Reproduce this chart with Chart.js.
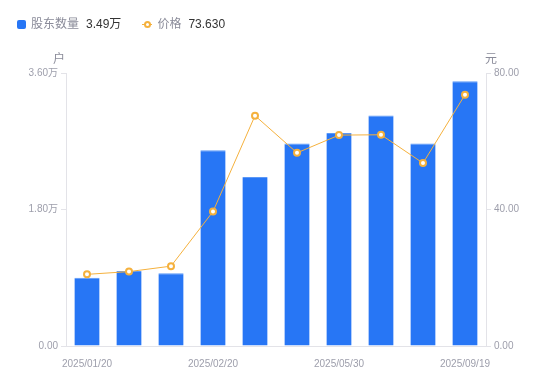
<!DOCTYPE html>
<html lang="zh">
<head>
  <meta charset="UTF-8">
  <title>股东数量与价格</title>
  <script src="https://cdn.jsdelivr.net/npm/chart.js"></script>
  <style>
    html, body { margin: 0; padding: 0; background: #fff; }
    body { font-family: "Liberation Sans", "Noto Sans CJK SC", sans-serif; }
    .wrap { position: relative; width: 550px; height: 381px; }
    .legend { position: absolute; left: 17px; top: 16px; font-size: 12px; line-height: 16px; display: flex; align-items: center; }
    .legend .lab { color: #8a8b99; margin-left: 5px; }
    .legend .val { color: #333; margin-left: 7px; }
    .sq { width: 9px; height: 9px; border-radius: 2px; background: #2776f5; display: inline-block; }
    .ln { position: relative; width: 10px; height: 9px; display: inline-block; margin-left: 21px; }
    .ln:before { content: ""; position: absolute; left: 0; right: 0; top: 4px; height: 1px; background: #f5b13d; }
    .ln:after { content: ""; position: absolute; left: 2px; top: 1px; width: 3px; height: 3px; border: 2px solid #f5b13d; border-radius: 50%; background: #fff; }
    .unit { position: absolute; top: 49px; font-size: 12px; color: #8a8b99; }
  </style>
</head>
<body>
  <div class="wrap">
    <div class="legend">
      <span class="sq"></span><span class="lab">股东数量</span><span class="val" id="v1"></span>
      <span class="ln"></span><span class="lab">价格</span><span class="val" id="v2"></span>
    </div>
    <span class="unit" style="left:53px">户</span>
    <span class="unit" style="left:485px">元</span>
    <canvas id="chart"></canvas>
  </div>

  <script>
    // 日期 (只显示第 0,3,6,9 个)
    const dates = ['2025/01/20', '2025/01/31', '2025/02/10', '2025/02/20', '2025/03/10',
                   '2025/03/31', '2025/05/30', '2025/06/30', '2025/08/31', '2025/09/19']
    // 股东数量 (万户)
    const holders = [0.90, 0.99, 0.96, 2.58, 2.23, 2.67, 2.81, 3.04, 2.67, 3.49]
    // 价格 (元)
    const prices = [21.0, 21.8, 23.4, 39.4, 67.5, 56.6, 61.8, 61.9, 53.6, 73.63]
    const leftTicks = [0, 1.8, 3.6]
    const rightTicks = [0, 40, 80]

    document.getElementById('v1').textContent = holders[holders.length - 1].toFixed(2) + '万'
    document.getElementById('v2').textContent = prices[prices.length - 1].toFixed(3)

    const blue = '#2776f5', orange = '#f5b13d', axisColor = '#e3e3e8', tickColor = '#9d9eab'
    const font = { family: '"Liberation Sans", "Noto Sans CJK SC", sans-serif', size: 10 }

    new Chart(document.getElementById('chart'), {
      data: {
        labels: dates,
        datasets: [{
          type: 'line',
          label: '价格',
          data: prices,
          yAxisID: 'y1',
          borderColor: orange,
          borderWidth: 1,
          pointRadius: 3,
          pointBorderWidth: 2,
          pointBackgroundColor: '#fff',
          pointBorderColor: orange,
          tension: 0,
          order: 0
        }, {
          type: 'bar',
          label: '股东数量',
          data: holders,
          yAxisID: 'y',
          backgroundColor: blue,
          borderColor: '#5b98f7',
          borderWidth: { top: 1, left: 0, right: 0, bottom: 0 },
          categoryPercentage: 0.6,
          barPercentage: 1,
          order: 1
        }]
      },
      options: {
        responsive: true,
        maintainAspectRatio: false,
        animation: false,
        layout: { padding: { top: 73, left: 0, right: 0, bottom: 0 } },
        plugins: { legend: { display: false }, tooltip: { enabled: false } },
        scales: {
          x: {
            grid: { display: false },
            border: { display: true, color: axisColor },
            afterFit: s => { s.height = 35 },
            ticks: {
              color: tickColor, font: font, padding: 4, autoSkip: false, maxRotation: 0,
              callback: (v, i) => i % 3 === 0 ? dates[i] : ''
            }
          },
          y: {
            position: 'left',
            min: 0, max: 3.6,
            afterFit: s => { s.width = 66 },
            afterBuildTicks: s => { s.ticks = leftTicks.map(v => ({ value: v })) },
            grid: { drawOnChartArea: false, drawTicks: true, tickLength: 5, color: axisColor },
            border: { display: true, color: axisColor },
            ticks: {
              color: tickColor, font: font, padding: 3,
              callback: v => v === 0 ? '0.00' : v.toFixed(2) + '万'
            }
          },
          y1: {
            position: 'right',
            min: 0, max: 80,
            afterFit: s => { s.width = 64 },
            afterBuildTicks: s => { s.ticks = rightTicks.map(v => ({ value: v })) },
            grid: { drawOnChartArea: false, drawTicks: true, tickLength: 5, color: axisColor },
            border: { display: true, color: axisColor },
            ticks: {
              color: tickColor, font: font, padding: 3,
              callback: v => v.toFixed(2)
            }
          }
        }
      }
    })
  </script>
</body>
</html>
